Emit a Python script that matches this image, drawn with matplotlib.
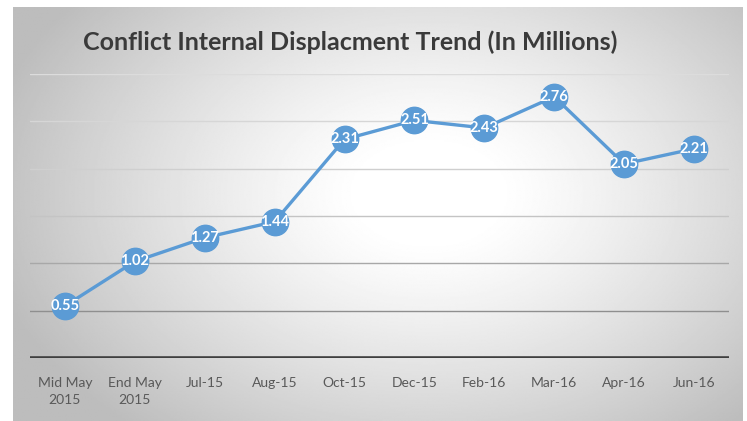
import numpy as np
import matplotlib.pyplot as plt

plt.rcParams['font.family'] = ['Lato', 'DejaVu Sans']

categories = ['Mid May\n2015', 'End May\n2015', 'Jul-15', 'Aug-15', 'Oct-15',
              'Dec-15', 'Feb-16', 'Mar-16', 'Apr-16', 'Jun-16']
values = [0.55, 1.02, 1.27, 1.44, 2.31, 2.51, 2.43, 2.76, 2.05, 2.21]
grid_levels = [0.5, 1.0, 1.5, 2.0, 2.5, 3.0]

W, H = 747, 421
fig = plt.figure(figsize=(W / 100, H / 100), dpi=100)
fig.patch.set_facecolor('white')

# radial gradient background (white centre, grey edges)
bg = fig.add_axes([13 / W, 0, (743 - 13) / W, (H - 7) / H])
bg.set_axis_off()
yy, xx = np.mgrid[0:1:300j, 0:1:500j]
r = np.sqrt(((xx - 0.57) / 0.62) ** 2 + ((yy - 0.45) / 0.75) ** 2)
shade = 1 - 0.26 * np.clip((r - 0.15) / 0.85, 0, 1) ** 1.2
bg.imshow(shade, cmap='gray', vmin=0, vmax=1, aspect='auto',
          extent=[0, 1, 0, 1], origin='upper', interpolation='bilinear')

ax = fig.add_axes([30 / W, (H - 358) / H, (729 - 30) / W, (358 - 74) / H])
ax.patch.set_alpha(0)
x = np.arange(len(categories))

grid_colors = ['#8f8f8f', '#a8a8a8', '#c4c4c4', '#cfcfcf', '#d6d6d6', '#dcdcdc']
for lvl, c in zip(grid_levels, grid_colors):
    ax.axhline(lvl, color=c, lw=1, zorder=1)
ax.axhline(0, color='#3f3f3f', lw=2.6, zorder=2)

ax.plot(x, values, color='#5b9bd5', lw=2.4, marker='o', markersize=19,
        markerfacecolor='#5b9bd5', markeredgecolor='#5b9bd5', zorder=3,
        clip_on=False)
for xi, v in zip(x, values):
    ax.text(xi, v, f'{v:.2f}', ha='center', va='center', color='white',
            fontsize=10.5, fontweight='bold', zorder=4)

ax.set_xlim(-0.5, len(categories) - 0.5)
ax.set_ylim(0, 3)
ax.set_xticks(x)
ax.set_xticklabels(categories, fontsize=10, color='#595959', linespacing=1.5)
ax.tick_params(axis='x', length=0, pad=14)
ax.set_yticks([])
for s in ax.spines.values():
    s.set_visible(False)

fig.text(83 / W, 1 - 42 / H, 'Conflict Internal Displacment Trend (In Millions)',
         fontsize=18, fontweight='bold', color='#3a3a3a', va='center', ha='left')

fig.savefig('out.png', dpi=100)
